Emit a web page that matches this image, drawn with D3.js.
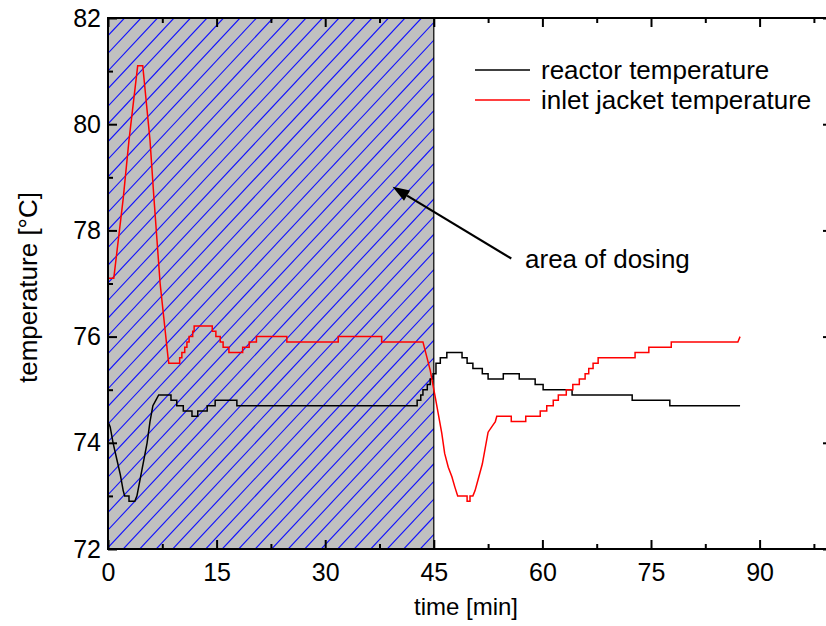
<!DOCTYPE html>
<html><head><meta charset="utf-8">
<script src="https://cdn.jsdelivr.net/npm/d3@7/dist/d3.min.js"></script>
<style>body{margin:0;background:#fff;}svg{display:block;}</style>
</head><body>
<svg id="chart" width="826" height="626"></svg>
<script>
// ---- data (time in min, temperature in °C) ----
const reactorTime = [0,0.3,0.7,1.2,1.7,2.1,2.3,2.9,2.9,3.7,4.0,4.7,5.4,5.8,6.2,6.6,7.0,8.7,8.7,9.5,9.5,10.4,10.4,11.6,11.6,12.4,12.4,13.7,13.7,14.8,14.8,17.8,17.8,42.7,42.7,43.2,43.2,43.5,43.5,44.1,44.1,44.5,44.5,44.9,44.9,45.3,45.3,45.9,45.9,46.8,46.8,48.9,48.9,49.6,49.6,50.4,50.4,51.7,51.7,52.5,52.5,54.6,54.6,56.8,56.8,59.0,59.0,60.1,60.1,64.1,64.1,72.4,72.4,77.6,77.6,87.3];
const reactorTemp = [74.4,74.3,74.0,73.7,73.4,73.1,73.0,73.0,72.9,72.9,73.0,73.5,74.0,74.4,74.7,74.8,74.9,74.9,74.8,74.8,74.7,74.7,74.6,74.6,74.5,74.5,74.6,74.6,74.7,74.7,74.8,74.8,74.7,74.7,74.8,74.8,74.9,74.9,75.0,75.0,75.1,75.1,75.2,75.2,75.3,75.3,75.5,75.5,75.6,75.6,75.7,75.7,75.6,75.6,75.5,75.5,75.4,75.4,75.3,75.3,75.2,75.2,75.3,75.3,75.2,75.2,75.1,75.1,75.0,75.0,74.9,74.9,74.8,74.8,74.7,74.7];

const jacketTime = [0,0.8,2.1,2.9,4.1,4.8,5.8,6.35,7.2,8.3,8.4,9.9,9.9,10.2,10.2,10.6,10.6,10.9,10.9,11.2,11.2,11.7,11.7,11.9,11.9,14.4,14.4,14.9,14.9,15.5,15.5,15.9,15.9,16.7,16.7,18.6,18.6,19.5,19.5,20.5,20.5,24.7,24.7,31.8,31.8,37.8,37.8,43.5,44.5,45.2,45.6,46.1,46.5,47.0,47.5,47.9,48.3,49.6,49.6,50.0,50.0,50.4,50.7,51.1,51.7,52.1,52.5,53.0,53.5,53.7,55.7,55.7,57.7,57.7,59.7,59.7,60.6,60.6,61.5,61.5,62.2,62.2,63.3,63.3,64.2,64.2,65.1,65.1,65.9,65.9,66.4,66.4,67.0,67.0,67.7,67.7,72.8,72.8,74.7,74.7,77.8,77.8,87.0,87.3];
const jacketTemp = [77.1,77.1,78.6,79.7,81.1,81.1,79.7,78.6,77.0,75.6,75.5,75.5,75.6,75.6,75.7,75.7,75.8,75.8,75.9,75.9,76.0,76.0,76.1,76.1,76.2,76.2,76.1,76.1,76.0,76.0,75.9,75.9,75.8,75.8,75.7,75.7,75.8,75.8,75.9,75.9,76.0,76.0,75.9,75.9,76.0,76.0,75.9,75.9,75.37,74.86,74.56,74.18,73.8,73.54,73.36,73.17,73.0,73.0,72.9,72.9,73.0,73.0,73.1,73.3,73.6,73.9,74.2,74.3,74.4,74.5,74.5,74.4,74.4,74.5,74.5,74.6,74.6,74.7,74.7,74.8,74.8,74.9,74.9,75.0,75.0,75.1,75.1,75.2,75.2,75.3,75.3,75.4,75.4,75.5,75.5,75.6,75.6,75.7,75.7,75.8,75.8,75.9,75.9,76.0];

const xMajorTicks = [0,15,30,45,60,75,90];
const xMinorTicks = [7.5,22.5,37.5,52.5,67.5,82.5,97.5];
const yMajorTicks = [72,74,76,78,80,82];
const yMinorTicks = [73,75,77,79,81];
const dosingRange = [0,45];
const legendLabels = ["reactor temperature","inlet jacket temperature"];
const seriesColors = ["#000000","#ff0000"];
const xTitle = "time [min]";
const yTitle = "temperature [°C]";
const annotationText = "area of dosing";
const arrowFrom = [55.7,77.47];   // data coords of arrow tail
const arrowTo = [39.3,78.82];     // data coords of arrow tip
const annotationPos = [57.6,77.3];

// ---- layout ----
const svg = d3.select("#chart");
const L = 108, R = 832, T = 18, B = 549;
const x = d3.scaleLinear().domain([0,100]).range([L,R]);
const y = d3.scaleLinear().domain([72,82]).range([B,T]);
const font = "'Liberation Sans', Arial, Helvetica, sans-serif";
const narrow = "'Liberation Sans Narrow', 'Arial Narrow', 'Liberation Sans', Arial, sans-serif";

// dosing area: gray fill + blue hatch
const rx0 = x(dosingRange[0]), rx1 = x(dosingRange[1]);
svg.append("defs").append("clipPath").attr("id","dclip")
  .append("rect").attr("x",rx0).attr("y",T).attr("width",rx1-rx0).attr("height",B-T);
svg.append("rect").attr("x",rx0).attr("y",T).attr("width",rx1-rx0).attr("height",B-T)
  .attr("fill","#c0c0c0");
const step = 16.5, H = B - T, run = H / 1.07;
svg.append("g").attr("clip-path","url(#dclip)")
  .selectAll("line").data(d3.range(rx0 - run, rx1 + step, step)).join("line")
  .attr("x1",d=>d).attr("y1",B).attr("x2",d=>d+run).attr("y2",T)
  .attr("stroke","#1010ff").attr("stroke-width",1.1);
svg.append("line").attr("x1",rx1).attr("x2",rx1).attr("y1",T).attr("y2",B)
  .attr("stroke","#000").attr("stroke-width",1.2);

// series
const line = d3.line().x(d=>x(d[0])).y(d=>y(d[1]));
const reactor = reactorTime.map((t,i)=>[t,reactorTemp[i]]);
const jacket = jacketTime.map((t,i)=>[t,jacketTemp[i]]);
[reactor,jacket].forEach((s,i)=>{
  svg.append("path").datum(s).attr("d",line).attr("fill","none")
    .attr("stroke",seriesColors[i]).attr("stroke-width",1.5).attr("stroke-linejoin","miter");
});

// axes
function styleAxis(g){
  g.select(".domain").remove();
  g.selectAll(".tick line").attr("stroke","#000").attr("stroke-width",2);
  g.selectAll(".tick text").attr("font-family",narrow).attr("font-size",25).attr("fill","#000");
}
svg.append("g").attr("transform",`translate(0,${B})`)
  .call(d3.axisBottom(x).tickValues(xMajorTicks).tickSize(-9).tickPadding(14).tickFormat(d3.format("d"))).call(styleAxis);
svg.append("g").attr("transform",`translate(0,${B})`)
  .call(d3.axisBottom(x).tickValues(xMinorTicks).tickSize(-5).tickFormat("")).call(styleAxis);
svg.append("g").attr("transform",`translate(0,${T})`)
  .call(d3.axisTop(x).tickValues(xMajorTicks).tickSize(-9).tickFormat("")).call(styleAxis);
svg.append("g").attr("transform",`translate(0,${T})`)
  .call(d3.axisTop(x).tickValues(xMinorTicks).tickSize(-5).tickFormat("")).call(styleAxis);
svg.append("g").attr("transform",`translate(${L},0)`)
  .call(d3.axisLeft(y).tickValues(yMajorTicks).tickSize(-9).tickPadding(7).tickFormat(d3.format("d"))).call(styleAxis);
svg.append("g").attr("transform",`translate(${L},0)`)
  .call(d3.axisLeft(y).tickValues(yMinorTicks).tickSize(-5).tickFormat("")).call(styleAxis);
svg.append("g").attr("transform",`translate(${R},0)`)
  .call(d3.axisRight(y).tickValues(yMajorTicks).tickSize(-9).tickFormat("")).call(styleAxis);
svg.append("g").attr("transform",`translate(${R},0)`)
  .call(d3.axisRight(y).tickValues(yMinorTicks).tickSize(-5).tickFormat("")).call(styleAxis);

// frame
svg.append("rect").attr("x",L).attr("y",T).attr("width",R-L).attr("height",B-T)
  .attr("fill","none").attr("stroke","#000").attr("stroke-width",2);

// titles
svg.append("text").attr("x",466).attr("y",615).attr("text-anchor","middle")
  .attr("font-family",font).attr("font-size",24).text(xTitle);
svg.append("text").attr("transform",`translate(37,${(T+B)/2+4}) rotate(-90)`).attr("text-anchor","middle")
  .attr("font-family",font).attr("font-size",26).text(yTitle);

// legend
legendLabels.forEach((lab,i)=>{
  const ly = 70 + i*30;
  svg.append("line").attr("x1",475).attr("x2",530).attr("y1",ly).attr("y2",ly)
    .attr("stroke",seriesColors[i]).attr("stroke-width",1.5);
  svg.append("text").attr("x",541).attr("y",ly+9).attr("font-family",font).attr("font-size",26)
    .attr("fill","#000").text(lab);
});

// annotation
svg.append("text").attr("x",x(annotationPos[0])).attr("y",y(annotationPos[1]))
  .attr("font-family",font).attr("font-size",26).text(annotationText);
const ax1=x(arrowFrom[0]), ay1=y(arrowFrom[1]), ax2=x(arrowTo[0]), ay2=y(arrowTo[1]);
const ang = Math.atan2(ay2-ay1, ax2-ax1);
const hl=17, hw=6;
const bx = ax2 - hl*Math.cos(ang), by = ay2 - hl*Math.sin(ang);
svg.append("line").attr("x1",ax1).attr("y1",ay1).attr("x2",bx).attr("y2",by)
  .attr("stroke","#000").attr("stroke-width",2.2);
svg.append("path").attr("d",`M${ax2},${ay2} L${bx+hw*Math.sin(ang)},${by-hw*Math.cos(ang)} L${bx-hw*Math.sin(ang)},${by+hw*Math.cos(ang)} Z`)
  .attr("fill","#000");
</script>
</body></html>
